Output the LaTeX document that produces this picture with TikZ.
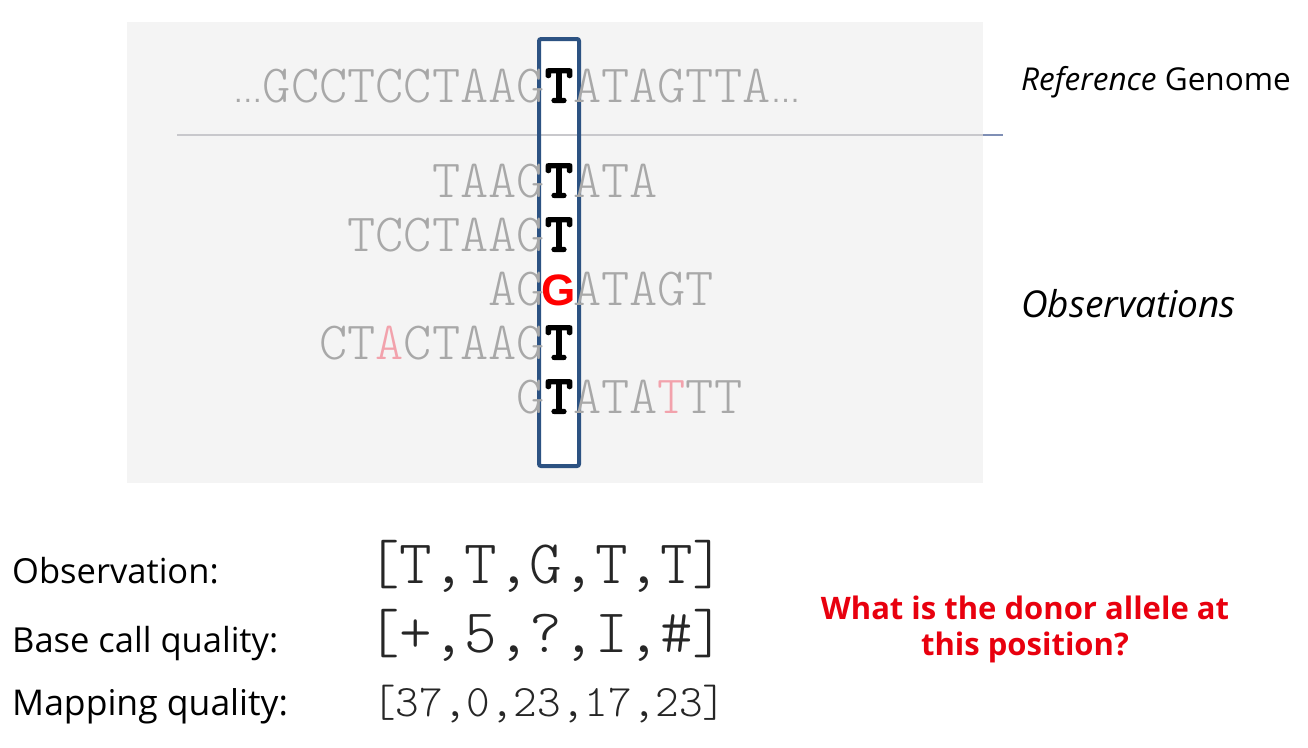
\documentclass[tikz,border=0pt]{standalone}
\usepackage{fontspec}
\setmainfont{Open Sans}
\newfontfamily\monof{Latin Modern Mono Light}
\newfontfamily\monobf{Latin Modern Mono}[FakeBold=4]
\newfontfamily\arialf{Liberation Sans}
\definecolor{panel}{HTML}{F4F4F4}
\definecolor{seqgray}{HTML}{A8A8A8}
\definecolor{boxblue}{HTML}{2C5282}
\definecolor{pinkbase}{HTML}{F2A2AC}
\definecolor{qred}{HTML}{E8000E}
\definecolor{linegray}{HTML}{C8C8CC}
\definecolor{lineblue}{HTML}{7F8FB5}
\newcommand{\seqdots}{{\arialf\fontsize{30}{30}\selectfont …}}
\tikzset{
  seq/.style={font=\monof\fontsize{53.7}{53.7}\selectfont, text=seqgray, inner sep=0pt},
  hit/.style={font=\monobf\fontsize{53.7}{53.7}\selectfont, text=black, inner sep=0pt, anchor=base},
  lbl/.style={font=\fontsize{34.5}{34.5}\selectfont, text=black, inner sep=0pt, anchor=base west},
  lst/.style={font=\monof\fontsize{62}{62}\selectfont, text=black!85, inner sep=0pt, anchor=base west},
}
\begin{document}
\begin{tikzpicture}[x=1pt,y=-1pt]
\useasboundingbox (0,0) rectangle (1308,747);
% panel
\fill[panel] (127,22) rectangle (983,483);
% column box interior
\fill[white, rounded corners=2pt] (539,39) rectangle (579,466);
% separator line
\draw[linegray, line width=1.5pt] (177,135) -- (983,135);
\draw[lineblue, line width=1.5pt] (983,135) -- (1003,135);
% column box border
\draw[boxblue, line width=4pt, rounded corners=2pt] (539,39) rectangle (579,466);

% reference row
\node[seq, anchor=base east] (refL) at (545,102) {\seqdots GCCTCCTAAG};
\node[hit] (refT) at (559,102) {T};
\node[seq, anchor=base west] (refR) at (573,102) {ATAGTTA\seqdots};

% read 1
\node[seq, anchor=base east] (r1L) at (545,197) {TAAG};
\node[hit] (r1T) at (559,197) {T};
\node[seq, anchor=base west] (r1R) at (573,197) {ATA};
% read 2
\node[seq, anchor=base east] (r2L) at (545,251) {TCCTAAG};
\node[hit] (r2T) at (559,251) {T};
% read 3
\node[seq, anchor=base east] (r3L) at (545,305) {AG};
\node[hit, font=\arialf\bfseries\fontsize{44}{44}\selectfont, text=red] (r3G) at (559,305) {G};
\node[seq, anchor=base west] (r3R) at (573,305) {ATAGT};
% read 4
\node[seq, anchor=base east] (r4L) at (545,359) {CT\textcolor{pinkbase}{A}CTAAG};
\node[hit] (r4T) at (559,359) {T};
% read 5
\node[seq, anchor=base east] (r5L) at (545,413) {G};
\node[hit] (r5T) at (559,413) {T};
\node[seq, anchor=base west] (r5R) at (573,413) {ATA\textcolor{pinkbase}{T}TT};

% right labels
\node[lbl, font=\fontsize{31.5}{31.5}\selectfont] (refLab) at (1021,90) {\textit{Reference} Genome};
\node[lbl, font=\itshape\fontsize{37}{37}\selectfont] (obsLab) at (1021,317) {Observations};

% bottom labels
\node[lbl] (obsTxt) at (12,583) {Observation:};
\node[lbl] (bcqTxt) at (12,652) {Base call quality:};
\node[lbl, font=\fontsize{35.5}{35.5}\selectfont] (mapTxt) at (12,715) {Mapping quality:};

\node[lst] (obsList) at (367,583) {[T,T,G,T,T]};
\node[lst] (bcqList) at (367,652) {[+,5,?,I,\#]};
\node[lst, font=\monof\fontsize{45}{45}\selectfont] (mapList) at (372,716) {[37,0,23,17,23]};

% question
\node[font=\bfseries\fontsize{31}{36}\selectfont, text=qred, align=center, inner sep=0pt, anchor=base] (question) at (1025,655) {What is the donor allele at\\this position?};
\end{tikzpicture}
\end{document}
